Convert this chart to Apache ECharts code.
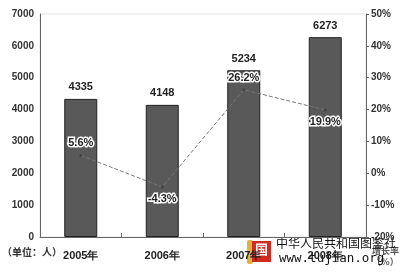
<!DOCTYPE html>
<html><head><meta charset="utf-8">
<script src="https://cdn.jsdelivr.net/npm/echarts@6/dist/echarts.min.js"></script>
<style>html,body{margin:0;padding:0;background:#fff}#c{width:400px;height:273px}</style>
</head><body><div id="c"></div>
<script>
var categories = ['2005年', '2006年', '2007年', '2008年'];
var people = [4335, 4148, 5234, 6273];
var growth = [5.6, -4.3, 26.2, 19.9];
var leftTicks = [0, 1000, 2000, 3000, 4000, 5000, 6000, 7000];
var rightTicks = [-20, -10, 0, 10, 20, 30, 40, 50];
var growthPos = ['top', 'bottom', 'top', 'bottom'];

var chart = echarts.init(document.getElementById('c'));
var font = 'Liberation Sans, Arial, sans-serif';
chart.setOption({
  animation: false,
  grid: {left: 40, right: 34, top: 14, bottom: 36, show: true, borderColor: '#e4e4e4', borderWidth: 1},
  xAxis: {
    type: 'category', data: categories,
    axisLine: {lineStyle: {color: '#666', width: 1}},
    axisTick: {show: true, inside: true, length: 4, lineStyle: {color: '#666'}},
    axisLabel: {color: '#222', fontWeight: 'bold', fontSize: 11, fontFamily: font, margin: 13}
  },
  yAxis: [{
    type: 'value', min: leftTicks[0], max: leftTicks[leftTicks.length - 1], interval: 1000,
    axisLine: {show: true, lineStyle: {color: '#666'}},
    axisTick: {show: false},
    splitLine: {show: false},
    axisLabel: {color: '#333', fontWeight: 'bold', fontSize: 10, fontFamily: font, margin: 6,
      formatter: function (v) { return String(v); }}
  }, {
    type: 'value', min: rightTicks[0], max: rightTicks[rightTicks.length - 1], interval: 10,
    position: 'right',
    axisLine: {show: true, lineStyle: {color: '#666'}},
    axisTick: {show: true, length: 3, lineStyle: {color: '#666'}},
    splitLine: {show: false},
    axisLabel: {color: '#333', fontWeight: 'bold', fontSize: 10, fontFamily: font, margin: 5, formatter: '{value}%'}
  }],
  series: [{
    type: 'bar', data: people, barWidth: 33,
    itemStyle: {color: '#595959', borderColor: '#222', borderWidth: 1},
    label: {show: true, position: 'top', distance: 6, color: '#222', fontWeight: 'bold', fontSize: 11, fontFamily: font}
  }, {
    type: 'line', yAxisIndex: 1,
    data: growth.map(function (v, i) {
      return {value: v, label: {position: growthPos[i]}};
    }),
    symbol: 'circle', symbolSize: 3,
    itemStyle: {color: '#444'},
    lineStyle: {color: '#777', width: 1, type: 'dashed'},
    label: {show: true, color: '#222', fontWeight: 'bold', fontSize: 11, fontFamily: font,
      textBorderColor: '#fff', textBorderWidth: 3, distance: 5,
      formatter: function (p) { return p.value + '%'; }}
  }],
  graphic: [
    {type: 'text', left: 2, top: 247, style: {text: '（单位：人）', fill: '#333', font: 'bold 10px "Noto Sans CJK SC"'}},
    {type: 'text', left: 372, top: 245, style: {text: '增长率\n（%）', fill: '#555', font: 'bold 9px "Noto Sans CJK SC"', align: 'left', lineHeight: 11}},
    {type: 'rect', shape: {x: 247, y: 240, width: 6, height: 24, r: 2}, style: {fill: '#e0b040'}},
    {type: 'rect', shape: {x: 252, y: 241, width: 19, height: 21}, style: {fill: '#d32a1f'}},
    {type: 'text', left: 255, top: 243, style: {text: '国', fill: '#fff', font: 'bold 13px "Noto Sans CJK SC"'}},
    {type: 'text', left: 276, top: 237, style: {text: '中华人民共和国图鉴社', fill: '#111', font: '12px "Noto Sans CJK SC"'}},
    {type: 'text', left: 279, top: 252, style: {text: 'www.tujian.org', fill: '#111', font: '12.5px "DejaVu Sans Mono"'}}
  ]
});
</script></body></html>
